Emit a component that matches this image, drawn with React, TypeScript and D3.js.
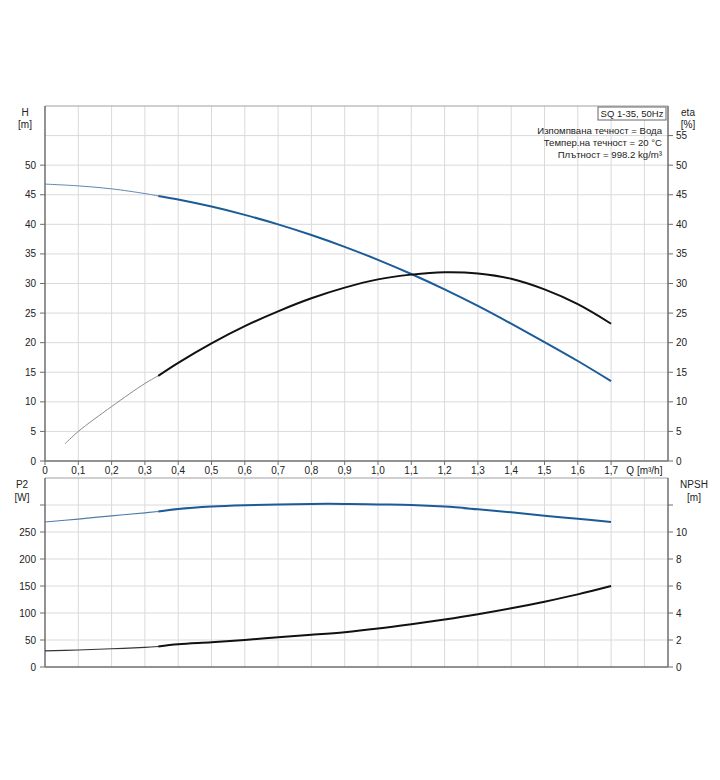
import React from "react";
import * as d3 from "d3";

// ---- data ----
const qMain = [0, 0.1, 0.2, 0.3, 0.34, 0.4, 0.5, 0.6, 0.7, 0.8, 0.9, 1.0, 1.1, 1.2, 1.3, 1.4, 1.5, 1.6, 1.7];
const headH = [46.8, 46.5, 46.0, 45.2, 44.8, 44.2, 43.0, 41.6, 40.0, 38.2, 36.2, 34.0, 31.6, 29.0, 26.2, 23.2, 20.1, 16.9, 13.5];
const qEta = [0.06, 0.1, 0.2, 0.3, 0.34, 0.4, 0.5, 0.6, 0.7, 0.8, 0.9, 1.0, 1.1, 1.2, 1.3, 1.4, 1.5, 1.6, 1.7];
const etaVals = [2.9, 5.0, 9.2, 13.1, 14.4, 16.6, 19.9, 22.8, 25.3, 27.5, 29.3, 30.7, 31.5, 31.9, 31.7, 30.8, 29.0, 26.5, 23.2];
const p2Vals = [268.5, 274, 280, 285.5, 288, 292.5, 297, 299.5, 301, 302, 302, 301, 300, 297, 292, 286.5, 280, 274.5, 268.5];
const npshVals = [1.19, 1.26, 1.35, 1.46, 1.52, 1.68, 1.83, 2.0, 2.2, 2.38, 2.58, 2.85, 3.17, 3.52, 3.91, 4.35, 4.84, 5.38, 6.0];
const splitQ = 0.34;

const qTicks = [0, 0.1, 0.2, 0.3, 0.4, 0.5, 0.6, 0.7, 0.8, 0.9, 1.0, 1.1, 1.2, 1.3, 1.4, 1.5, 1.6, 1.7];
const qGrid = [0.1, 0.2, 0.3, 0.4, 0.5, 0.6, 0.7, 0.8, 0.9, 1.0, 1.1, 1.2, 1.3, 1.4, 1.5, 1.6, 1.7, 1.8];
const hTicks = [0, 5, 10, 15, 20, 25, 30, 35, 40, 45, 50];
const etaTicks = [0, 5, 10, 15, 20, 25, 30, 35, 40, 45, 50, 55];
const topGrid = [5, 10, 15, 20, 25, 30, 35, 40, 45, 50, 55];
const p2Ticks = [0, 50, 100, 150, 200, 250, 300];
const p2Labels = [0, 50, 100, 150, 200, 250];
const npshTicks = [0, 2, 4, 6, 8, 10, 12];
const npshLabels = [0, 2, 4, 6, 8, 10];
const botGrid = [50, 100, 150, 200, 250, 300];

const legendTitle = "SQ 1-35, 50Hz";
const legendLines = ["Изпомпвана течност = Вода", "Темпер.на течност = 20 °C", "Плътност = 998.2 kg/m³"];

// ---- layout ----
const L = 45, R = 668;
const topT = 106, topB = 461;
const botT = 478, botB = 667;

const x = d3.scaleLinear().domain([0, 1.8709]).range([L, R]);
const yTop = d3.scaleLinear().domain([0, 60]).range([topB, topT]);
const yP2 = d3.scaleLinear().domain([0, 350]).range([botB, botT]);
const yNpsh = d3.scaleLinear().domain([0, 14]).range([botB, botT]);

const BLUE = "#1b5c98";
const BLACK = "#111";
const GRID = "#dadada";
const AXIS = "#6e6e6e";
const TXT = "#222";
const FONT = "'Liberation Sans', Arial, sans-serif";

type Pt = [number, number];
function pts(qs: number[], vs: number[]): Pt[] {
  return qs.map((q, i) => [q, vs[i]] as Pt);
}
function split(p: Pt[]): [Pt[], Pt[]] {
  return [p.filter((d) => d[0] <= splitQ + 1e-9), p.filter((d) => d[0] >= splitQ - 1e-9)];
}

function mkLine(ys: d3.ScaleLinear<number, number>) {
  return d3
    .line<Pt>()
    .x((d) => x(d[0]))
    .y((d) => ys(d[1]))
    .curve(d3.curveCatmullRom.alpha(0.5));
}

const fmtQ = (q: number) => (q === 0 ? "0" : q.toFixed(1).replace(".", ","));

export default function App() {
  const lineTop = mkLine(yTop);
  const lineP2 = mkLine(yP2);
  const lineN = mkLine(yNpsh);
  const [hThin, hThick] = split(pts(qMain, headH));
  const [eThin, eThick] = split(pts(qEta, etaVals));
  const [pThin, pThick] = split(pts(qMain, p2Vals));
  const [nThin, nThick] = split(pts(qMain, npshVals));

  return (
    <svg
      width={720}
      height={780}
      style={{ position: "absolute", left: 0, top: 0, background: "#fff" }}
      fontFamily={FONT}
      fontSize={10}
    >
      <rect x={0} y={0} width={720} height={780} fill="#fff" />
      {/* ---- top panel grid ---- */}
      {qGrid.map((q) => (
        <line key={"tv" + q} x1={x(q)} x2={x(q)} y1={topT} y2={topB} stroke={GRID} strokeWidth={1} />
      ))}
      {topGrid.map((v) => (
        <line key={"th" + v} x1={L} x2={R} y1={yTop(v)} y2={yTop(v)} stroke={GRID} strokeWidth={1} />
      ))}
      <line x1={L} x2={R} y1={topT} y2={topT} stroke="#a0a0a0" strokeWidth={1} />
      {/* ---- bottom panel grid ---- */}
      {qGrid.map((q) => (
        <line key={"bv" + q} x1={x(q)} x2={x(q)} y1={botT} y2={botB} stroke={GRID} strokeWidth={1} />
      ))}
      {botGrid.map((v) => (
        <line key={"bh" + v} x1={L} x2={R} y1={yP2(v)} y2={yP2(v)} stroke={GRID} strokeWidth={1} />
      ))}
      <line x1={L} x2={R} y1={botT} y2={botT} stroke="#a0a0a0" strokeWidth={1} />

      {/* ---- axes top ---- */}
      <line x1={L} x2={L} y1={topT} y2={topB} stroke={AXIS} strokeWidth={1.5} />
      <line x1={R} x2={R} y1={topT} y2={topB} stroke={AXIS} strokeWidth={1.5} />
      <line x1={L} x2={R} y1={topB} y2={topB} stroke={AXIS} strokeWidth={1.5} />
      {hTicks.map((v) => (
        <g key={"hl" + v}>
          <line x1={L - 5} x2={L} y1={yTop(v)} y2={yTop(v)} stroke={AXIS} />
          <text x={L - 9} y={yTop(v)} dy="0.35em" textAnchor="end" fill={TXT}>
            {v}
          </text>
        </g>
      ))}
      {etaTicks.map((v) => (
        <g key={"el" + v}>
          <line x1={R} x2={R + 5} y1={yTop(v)} y2={yTop(v)} stroke={AXIS} />
          <text x={R + 8} y={yTop(v)} dy="0.35em" textAnchor="start" fill={TXT}>
            {v}
          </text>
        </g>
      ))}
      {qTicks.map((q) => (
        <g key={"ql" + q}>
          <line x1={x(q)} x2={x(q)} y1={topB} y2={topB + 4} stroke={AXIS} />
          <text x={x(q)} y={470} dy="0.35em" textAnchor="middle" fill={TXT}>
            {fmtQ(q)}
          </text>
        </g>
      ))}
      <text x={x(1.8)} y={470} dy="0.35em" textAnchor="middle" fill={TXT}>
        Q [m³/h]
      </text>
      <text x={25} y={112} dy="0.35em" textAnchor="middle" fill={TXT}>H</text>
      <text x={25} y={124} dy="0.35em" textAnchor="middle" fill={TXT}>[m]</text>
      <text x={688} y={112} dy="0.35em" textAnchor="middle" fill={TXT}>eta</text>
      <text x={688} y={124} dy="0.35em" textAnchor="middle" fill={TXT}>[%]</text>

      {/* ---- axes bottom ---- */}
      <line x1={L} x2={L} y1={botT} y2={botB} stroke={AXIS} strokeWidth={1.5} />
      <line x1={R} x2={R} y1={botT} y2={botB} stroke={AXIS} strokeWidth={1.5} />
      <line x1={L} x2={R} y1={botB} y2={botB} stroke={AXIS} strokeWidth={1.5} />
      {p2Ticks.map((v) => (
        <line key={"pt" + v} x1={L - 5} x2={L} y1={yP2(v)} y2={yP2(v)} stroke={AXIS} />
      ))}
      {p2Labels.map((v) => (
        <text key={"pl" + v} x={L - 9} y={yP2(v)} dy="0.35em" textAnchor="end" fill={TXT}>
          {v}
        </text>
      ))}
      {npshTicks.map((v) => (
        <line key={"nt" + v} x1={R} x2={R + 5} y1={yNpsh(v)} y2={yNpsh(v)} stroke={AXIS} />
      ))}
      {npshLabels.map((v) => (
        <text key={"nl" + v} x={R + 8} y={yNpsh(v)} dy="0.35em" textAnchor="start" fill={TXT}>
          {v}
        </text>
      ))}
      <text x={22} y={484} dy="0.35em" textAnchor="middle" fill={TXT}>P2</text>
      <text x={22} y={497} dy="0.35em" textAnchor="middle" fill={TXT}>[W]</text>
      <text x={694} y={484} dy="0.35em" textAnchor="middle" fill={TXT}>NPSH</text>
      <text x={694} y={497} dy="0.35em" textAnchor="middle" fill={TXT}>[m]</text>

      {/* ---- curves top ---- */}
      <path d={lineTop(hThin) || ""} fill="none" stroke="#5f87b0" strokeWidth={1} />
      <path d={lineTop(hThick) || ""} fill="none" stroke={BLUE} strokeWidth={2} />
      <path d={lineTop(eThin) || ""} fill="none" stroke="#8a8a8a" strokeWidth={1} />
      <path d={lineTop(eThick) || ""} fill="none" stroke={BLACK} strokeWidth={2} />

      {/* ---- curves bottom ---- */}
      <path d={lineP2(pThin) || ""} fill="none" stroke="#4f7eab" strokeWidth={1.2} />
      <path d={lineP2(pThick) || ""} fill="none" stroke={BLUE} strokeWidth={2} />
      <path d={lineN(nThin) || ""} fill="none" stroke="#333" strokeWidth={1.2} />
      <path d={lineN(nThick) || ""} fill="none" stroke={BLACK} strokeWidth={2} />

      {/* ---- legend ---- */}
      <rect x={598} y={107} width={68} height={13} fill="#fff" stroke="#666" strokeWidth={1} />
      <text x={632} y={113.5} dy="0.35em" textAnchor="middle" fill={TXT} fontSize={9.5}>
        {legendTitle}
      </text>
      {legendLines.map((t, i) => (
        <text key={t} x={662} y={131 + i * 12} dy="0.35em" textAnchor="end" fill={TXT} fontSize={9.6}>
          {t}
        </text>
      ))}
    </svg>
  );
}
